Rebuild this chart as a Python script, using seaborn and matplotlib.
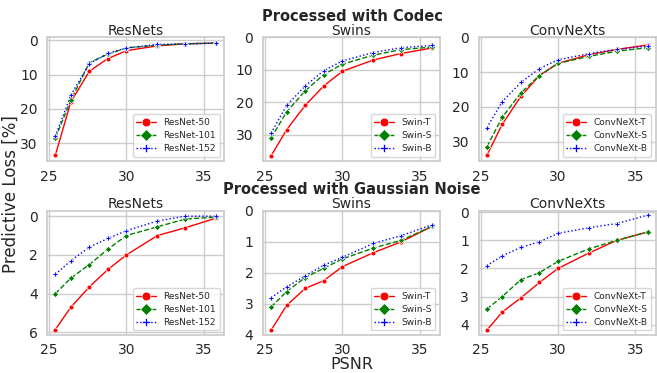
import pandas as pd
import matplotlib.pyplot as plt
import seaborn as sns

# PSNR levels shared by every curve
psnr = [25.4, 26.4, 27.6, 28.8, 30.0, 32.0, 33.8, 35.8]

# Processed with Codec
resnet_codec = {
    "ResNet-50": [33.5, 18.0, 9.0, 5.3, 3.0, 1.6, 1.0, 0.8],
    "ResNet-101": [28.5, 17.5, 6.5, 4.0, 2.2, 1.4, 1.0, 0.8],
    "ResNet-152": [28.0, 16.0, 6.8, 3.8, 2.2, 1.2, 1.0, 0.8],
}
swin_codec = {
    "Swin-T": [36.5, 28.5, 21.0, 15.0, 10.5, 7.0, 5.0, 3.3],
    "Swin-S": [31.0, 23.0, 16.5, 11.5, 8.3, 5.5, 3.8, 3.0],
    "Swin-B": [29.5, 21.0, 15.0, 10.3, 7.3, 4.7, 3.2, 2.5],
}
convnext_codec = {
    "ConvNeXt-T": [34.0, 25.0, 17.0, 11.0, 7.5, 5.0, 3.5, 2.2],
    "ConvNeXt-S": [31.5, 23.0, 16.0, 11.0, 7.5, 5.5, 4.0, 3.0],
    "ConvNeXt-B": [26.0, 18.5, 13.0, 9.0, 6.5, 4.7, 3.5, 2.5],
}

# Processed with Gaussian Noise
resnet_noise = {
    "ResNet-50": [5.85, 4.7, 3.65, 2.75, 2.0, 1.0, 0.6, 0.1],
    "ResNet-101": [4.0, 3.2, 2.5, 1.7, 1.0, 0.55, 0.15, 0.05],
    "ResNet-152": [3.0, 2.3, 1.6, 1.15, 0.75, 0.25, 0.0, 0.0],
}
swin_noise = {
    "Swin-T": [3.85, 3.05, 2.5, 2.25, 1.8, 1.35, 1.0, 0.5],
    "Swin-S": [3.1, 2.6, 2.15, 1.85, 1.55, 1.2, 0.95, 0.5],
    "Swin-B": [2.8, 2.45, 2.1, 1.75, 1.5, 1.05, 0.8, 0.45],
}
convnext_noise = {
    "ConvNeXt-T": [4.2, 3.55, 3.05, 2.5, 2.0, 1.45, 1.0, 0.7],
    "ConvNeXt-S": [3.45, 3.0, 2.4, 2.15, 1.75, 1.3, 1.0, 0.7],
    "ConvNeXt-B": [1.9, 1.55, 1.25, 1.05, 0.75, 0.55, 0.4, 0.1],
}

codec_ticks = [0, 10, 20, 30]
panels = [
    ("ResNets", resnet_codec, (35.3, -0.9), codec_ticks),
    ("Swins", swin_codec, (38.2, 0.0), codec_ticks),
    ("ConvNeXts", convnext_codec, (35.7, 0.0), codec_ticks),
    ("ResNets", resnet_noise, (6.13, -0.27), [0, 2, 4, 6]),
    ("Swins", swin_noise, (4.0, 0.0), [0, 1, 2, 3, 4]),
    ("ConvNeXts", convnext_noise, (4.37, -0.05), [0, 1, 2, 3, 4]),
]

# red solid dots, green dashed diamonds, blue dotted pluses
styles = [
    dict(color="red", marker="o", linestyle="-", markersize=3.5),
    dict(color="green", marker="D", linestyle="--", markersize=3.2),
    dict(color="blue", marker="P", linestyle=":", markersize=3.5),
]

sns.set_theme(style="whitegrid")
plt.rcParams["font.family"] = ["DejaVu Sans"]

fig, axes = plt.subplots(2, 3, figsize=(6.57, 3.73), dpi=100)
fig.subplots_adjust(left=0.072, right=0.998, top=0.90, bottom=0.102,
                    wspace=0.22, hspace=0.40)

for ax, (title, series, ylim, yticks) in zip(axes.flat, panels):
    for (name, vals), st in zip(series.items(), styles):
        df = pd.DataFrame({"psnr": psnr, "loss": vals})
        sns.lineplot(data=df, x="psnr", y="loss", ax=ax, label=name,
                     linewidth=1.0, markeredgewidth=0.5, **st)
    ax.set_title(title, fontsize=10, pad=2)
    ax.set_ylim(*ylim)
    ax.set_yticks(yticks)
    ax.set_xticks([25, 30, 35])
    ax.set_xlabel("")
    ax.set_ylabel("")
    ax.tick_params(axis="y", labelsize=10, pad=1)
    ax.tick_params(axis="x", labelsize=10, pad=0)
    for sp in ax.spines.values():
        sp.set_color("#cccccc")
    ax.legend(loc="lower right", fontsize=6.5, markerscale=1.8,
              handlelength=2.2, borderpad=0.4, labelspacing=0.45,
              frameon=True)

fig.text(0.536, 0.955, "Processed with Codec", ha="center", va="center",
         fontsize=10.5, fontweight="bold")
fig.text(0.536, 0.491, "Processed with Gaussian Noise", ha="center",
         va="center", fontsize=10.5, fontweight="bold")
fig.text(0.536, 0.022, "PSNR", ha="center", va="center", fontsize=11.5)
fig.text(0.016, 0.48, "Predictive Loss [%]", ha="center", va="center",
         rotation=90, fontsize=12)

plt.savefig("out.png", dpi=100)
